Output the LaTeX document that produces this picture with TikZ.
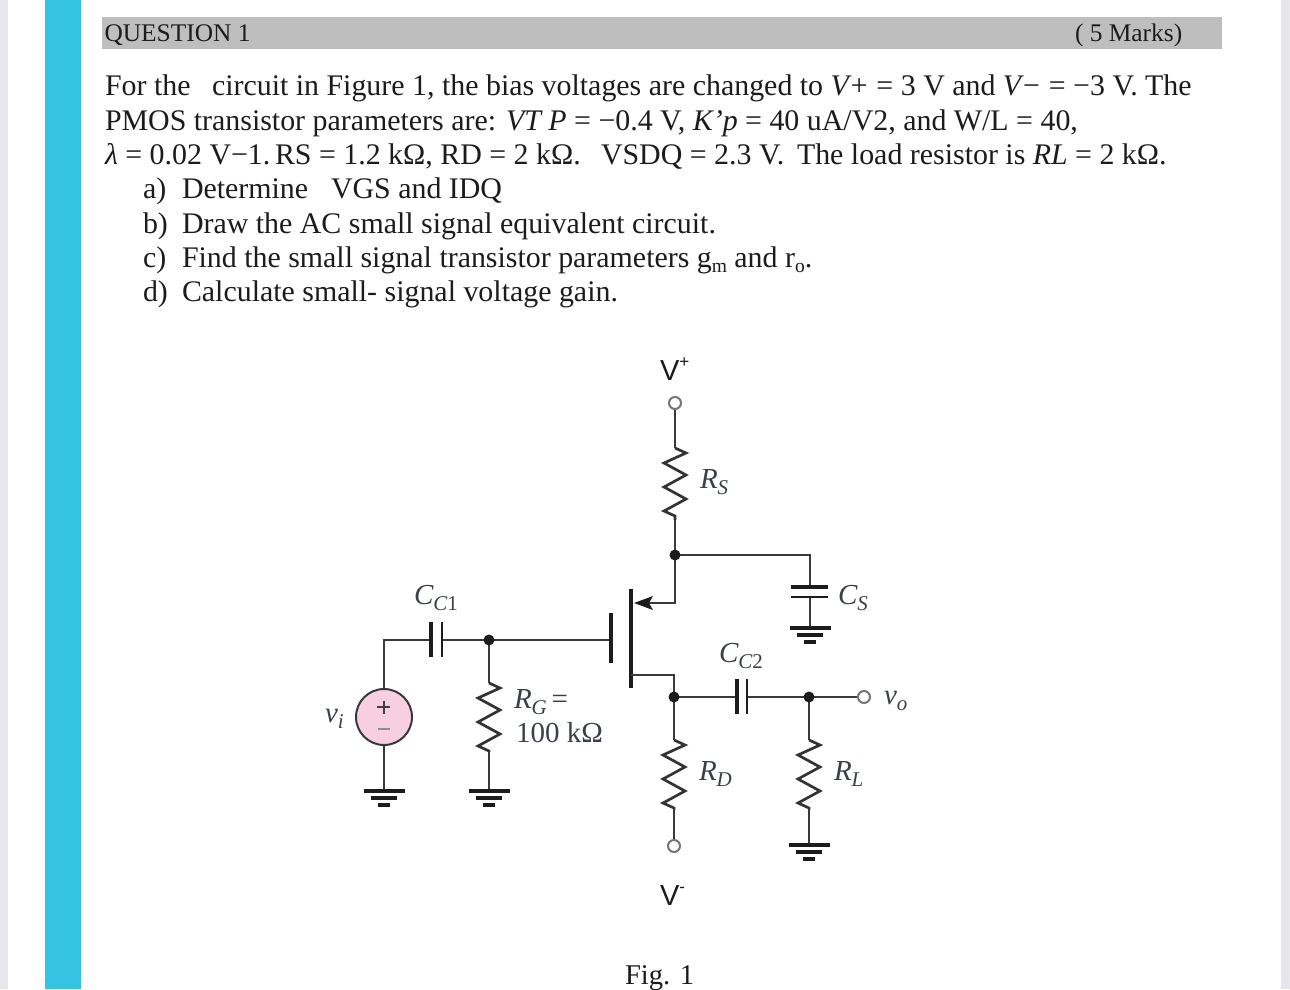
\documentclass[tikz,border=0pt]{standalone}
\usepackage{fontspec}
\setmainfont{Liberation Serif}
\setsansfont{Liberation Sans}
\usetikzlibrary{arrows.meta}
\definecolor{bandblue}{HTML}{34C3E0}
\definecolor{barg}{HTML}{BEBEBE}
\definecolor{edgeg}{HTML}{E6E6EC}
\definecolor{ink}{HTML}{1C1C1C}
\definecolor{wire}{HTML}{3A3A3A}
\definecolor{lab}{HTML}{3B4048}
\definecolor{srcpink}{HTML}{F8CFE0}
\newcommand{\lsub}[1]{\raisebox{-0.24em}{\fontsize{21}{24}\selectfont #1}}
\newcommand{\lsup}[1]{\raisebox{0.42em}{\fontsize{17}{20}\selectfont #1}}
\newcommand{\tsub}[1]{\raisebox{-0.2em}{\fontsize{19.5}{24}\selectfont #1}}
\tikzset{
  x=1pt,y=-1pt,
  txt/.style={anchor=base west,inner sep=0pt,outer sep=0pt,text=ink,font=\fontsize{29.9}{34}\selectfont},
  head/.style={anchor=base west,inner sep=0pt,outer sep=0pt,text=ink,font=\fontsize{25.4}{30}\selectfont},
  lbl/.style={anchor=base west,inner sep=0pt,outer sep=0pt,text=lab,font=\fontsize{29}{32}\selectfont},
  sanslbl/.style={anchor=base west,inner sep=0pt,outer sep=0pt,text=ink,font=\sffamily\fontsize{29}{34}\selectfont},
  wr/.style={draw=wire,line width=2.1pt,line join=miter},
  plate/.style={draw=ink,line width=3.8pt},
  thinplate/.style={draw=ink,line width=2.9pt},
  dot/.style={circle,fill=ink,inner sep=0pt,minimum size=11pt},
  term/.style={circle,draw=wire!70,fill=white,line width=2pt,inner sep=0pt,minimum size=12pt},
}
% vertical zigzag resistor between two named coordinates at the same x
\newcommand{\zigres}[2]{%
  \draw[wr,draw=ink!90,line width=2.7pt] (#1) -- ++(11,5) -- ++(-22,10) -- ++(22,12) -- ++(-22,12) -- ++(22,12) -- ++(-22,12) -- ++(11,5) -- (#2);}
% ground symbol hanging under a named coordinate
\newcommand{\gnd}[1]{%
  \draw[draw=ink,line width=3.2pt] ([xshift=-20.5pt]#1) -- ([xshift=20.5pt]#1);
  \draw[draw=ink,line width=3.2pt] ([xshift=-13pt,yshift=-7pt]#1) -- ([xshift=13pt,yshift=-7pt]#1);
  \draw[draw=ink,line width=3.8pt] ([xshift=-6pt,yshift=-14pt]#1) -- ([xshift=6pt,yshift=-14pt]#1);}
\begin{document}
\begin{tikzpicture}
\useasboundingbox (0,0) rectangle (1290,989);
\fill[white] (0,0) rectangle (1290,989);
\fill[edgeg] (0,0) rectangle (8,989);
\fill[edgeg] (1281,0) rectangle (1290,989);
\fill[bandblue] (45,0) rectangle (81,989);
\fill[barg] (102,17) rectangle (1222,49);

\node[head] (qtitle) at (104.5,41.5) {QUESTION 1};
\node[head] (marks) at (1075,41.5) {( 5 Marks)};

\node[txt] (l1a) at (105,95) {For the};
\node[txt] (l1b) at (212,95) {circuit in Figure 1, the bias voltages are changed to \textit{V+} = 3 V and \textit{V−} = −3 V. The};
\node[txt] (l2) at (105,130) {PMOS transistor parameters are: \textit{VT P} = −0.4 V, \textit{K’p} = 40 uA/V2, and W/L = 40,};
\node[txt] (l3a) at (105,164) {\textit{λ} = 0.02 V−1.};
\node[txt] (l3b) at (275,164) {RS = 1.2 kΩ, RD = 2 kΩ.};
\node[txt] (l3c) at (601,164) {VSDQ = 2.3 V.};
\node[txt] (l3d) at (797,164) {The load resistor is \textit{RL} = 2 kΩ.};
\node[txt] (a1) at (143,198) {a)};
\node[txt] (a2) at (182,198) {Determine};
\node[txt] (a3) at (331,198) {VGS and IDQ};
\node[txt] (b1) at (143,233) {b)};
\node[txt] (b2) at (182,233) {Draw the AC small signal equivalent circuit.};
\node[txt] (c1) at (143,267) {c)};
\node[txt] (c2) at (182,267) {Find the small signal transistor parameters g\tsub{m} and r\tsub{o}.};
\node[txt] (d1) at (143,301) {d)};
\node[txt] (d2) at (182,301) {Calculate small- signal voltage gain.};

% named points
\coordinate (vpt) at (675,403);
\coordinate (rst) at (675,448);
\coordinate (rsb) at (675,520);
\coordinate (sn) at (675,555);
\coordinate (scorner) at (675,603);
\coordinate (schan) at (648,603);
\coordinate (csc) at (810,555);
\coordinate (cst) at (810,587);
\coordinate (csb) at (810,597);
\coordinate (csg) at (810,628);
\coordinate (srcg) at (384,640);
\coordinate (c1l) at (431,640);
\coordinate (c1r) at (442,640);
\coordinate (gn) at (489,640);
\coordinate (gp) at (611,640);
\coordinate (rgt) at (489,683);
\coordinate (rgb) at (489,752);
\coordinate (rgg) at (489,791);
\coordinate (vig) at (384,791);
\coordinate (dchan) at (631,675);
\coordinate (dcorner) at (674,675);
\coordinate (dn) at (674,697);
\coordinate (c2l) at (737,697);
\coordinate (c2r) at (747,697);
\coordinate (on) at (809,697);
\coordinate (rdt) at (674,740);
\coordinate (rdb) at (674,807);
\coordinate (rlt) at (809,740);
\coordinate (rlb) at (809,807);
\coordinate (rlg) at (809,845);

% wires
\draw[wr] (vpt) -- (rst);
\zigres{rst}{rsb}
\draw[wr] (rsb) -- (sn) -- (scorner) -- (schan);
\fill[ink] (634,603) -- (653,596) -- (649,603) -- (653,610) -- cycle;
\draw[wr] (sn) -- (csc) -- (cst);
\draw[wr] (csb) -- (csg);
\draw[plate] (791,587) -- (828,587);
\draw[thinplate] (791,597) -- (828,597);
\gnd{csg}

\node[circle,draw=wire,fill=srcpink,line width=2pt,inner sep=0pt,minimum size=56pt] (src) at (384,717) {};
\draw[wr] (src.north) -- (srcg) -- (c1l);
\draw[wr] (c1r) -- (gn) -- (gp);
\draw[wr] (src.south) -- (vig);
\gnd{vig}
\draw[plate] (431,622) -- (431,657);
\draw[thinplate] (442,622) -- (442,657);
\draw[draw=lab,line width=2pt] (377,707) -- (390,707) (383.5,700.5) -- (383.5,713.5);
\draw[draw=lab!60,line width=2pt] (378,729) -- (390,729);

\draw[wr] (gn) -- (rgt);
\zigres{rgt}{rgb}
\draw[wr] (rgb) -- (rgg);
\gnd{rgg}

\draw[plate] (611,613) -- (611,663);
\draw[plate,line width=4pt] (631,589) -- (631,688);

\draw[wr] (dchan) -- (dcorner) -- (dn) -- (c2l);
\draw[wr] (c2r) -- (on);
\draw[plate] (737,679) -- (737,714);
\draw[thinplate] (747,679) -- (747,714);
\draw[wr] (dn) -- (rdt);
\zigres{rdt}{rdb}
\draw[wr] (on) -- (rlt);
\zigres{rlt}{rlb}
\draw[wr] (rlb) -- (rlg);
\gnd{rlg}

\node[term] (vdd) at (vpt) {};
\node[term] (vss) at (674,846) {};
\draw[wr] (rdb) -- (vss);
\node[term] (vout) at (864,697) {};
\draw[wr] (on) -- (vout);

\node[dot] (sdot) at (sn) {};
\node[dot] (gdot) at (gn) {};
\node[dot] (ddot) at (dn) {};
\node[dot] (odot) at (on) {};

% labels
\node[sanslbl] (vp) at (660,380) {V\lsup{+}};
\node[sanslbl] (vm) at (660,905) {V\lsup{-}};
\node[lbl] (lrs) at (700,488) {\textit{R\lsub{S}}};
\node[lbl] (lcs) at (838,604) {\textit{C\lsub{S}}};
\node[lbl] (lcc1) at (414,604) {\textit{C\lsub{C}}\lsub{1}};
\node[lbl] (lcc2) at (719,662) {\textit{C\lsub{C}}\lsub{2}};
\node[lbl] (lvi) at (325,722) {\textit{v\lsub{i}}};
\node[lbl] (lvo) at (884,704) {\textit{v\lsub{o}}};
\node[lbl] (lrg) at (514,708) {\textit{R\lsub{G}}\,=};
\node[lbl] (lrgv) at (516,742) {100 kΩ};
\node[lbl] (lrd) at (699,780) {\textit{R\lsub{D}}};
\node[lbl] (lrl) at (834,780) {\textit{R\lsub{L}}};
\node[txt,font=\fontsize{28.6}{34}\selectfont] (fig) at (625,984) {Fig. 1};
\end{tikzpicture}
\end{document}
